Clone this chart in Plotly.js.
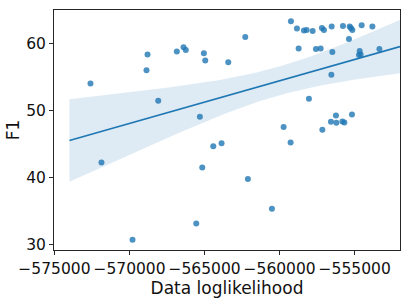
<!DOCTYPE html>
<html>
<head>
<meta charset="utf-8">
<script src="https://cdn.plot.ly/plotly-3.0.1.min.js"></script>
<style>html,body{margin:0;padding:0;background:#fff;}#chart{width:410px;height:300px;}</style>
</head>
<body>
<div id="chart"></div>
<script>
// Data loglikelihood (x) and F1 (y) per run
var loglik = [
  -572600, -568800, -568867, -568087, -566847, -566400, -566247, -565313, -565047, -564953,
  -563420, -562287, -559247, -558847, -558380, -558200, -557800, -557180, -557047, -556533,
  -555780, -555333, -555247, -555153, -554533, -553820, -555380, -558733, -557580, -557267,
  -556487, -554667, -554713, -554600, -553353, -556553, -558047, -555180, -556247, -556580,
  -556220, -555820, -555687, -557153, -559733, -571867, -565153, -564420, -563867, -559267,
  -562113, -560513, -565553, -569800
];
var f1 = [
  54.07, 58.36, 56.01, 51.48, 58.80, 59.45, 59.04, 49.09, 58.55, 57.46,
  57.20, 60.99, 63.33, 62.24, 61.94, 62.03, 61.88, 62.33, 62.03, 62.54,
  62.63, 62.54, 62.33, 62.03, 62.74, 62.54, 60.69, 59.25, 59.19, 59.25,
  58.74, 58.89, 58.30, 58.36, 59.19, 55.37, 51.78, 49.43, 49.28, 48.34,
  48.19, 48.39, 48.24, 47.15, 47.59, 42.30, 41.55, 44.69, 45.14, 45.25,
  39.82, 35.38, 33.18, 30.79
];
// extent of the fitted regression line / band along x
var fitRange = [-574000, -551980];
var xTicks = [-575000, -570000, -565000, -560000, -555000];
var yTicks = [30, 40, 50, 60];

// ordinary least squares fit with 95% confidence band
var n = loglik.length;
var mx = loglik.reduce(function(a,b){return a+b;},0)/n;
var my = f1.reduce(function(a,b){return a+b;},0)/n;
var sxx = 0, sxy = 0;
for (var i=0;i<n;i++){ sxx += (loglik[i]-mx)*(loglik[i]-mx); sxy += (loglik[i]-mx)*(f1[i]-my); }
var slope = sxy/sxx, icpt = my - slope*mx;
var sse = 0;
for (var i=0;i<n;i++){ var r = f1[i]-(icpt+slope*loglik[i]); sse += r*r; }
var s = Math.sqrt(sse/(n-2));
var tcrit = 2.007;
var gx = [], gy = [], lo = [], hi = [];
var steps = 100;
for (var k=0;k<=steps;k++){
  var x0 = fitRange[0] + (fitRange[1]-fitRange[0])*k/steps;
  var y0 = icpt + slope*x0;
  var se = s*Math.sqrt(1/n + (x0-mx)*(x0-mx)/sxx);
  gx.push(x0); gy.push(y0); lo.push(y0 - tcrit*se); hi.push(y0 + tcrit*se);
}

var col = '#1f77b4';
var traces = [
  {x: gx, y: lo, mode: 'lines', line: {width: 0, color: col}, hoverinfo: 'skip', showlegend: false},
  {x: gx, y: hi, mode: 'lines', line: {width: 0, color: col}, fill: 'tonexty', fillcolor: 'rgba(31,119,180,0.15)', hoverinfo: 'skip', showlegend: false},
  {x: loglik, y: f1, mode: 'markers', type: 'scatter', marker: {color: col, opacity: 0.8, size: 6, line: {width: 0}}, showlegend: false},
  {x: gx, y: gy, mode: 'lines', line: {width: 1.6, color: col}, showlegend: false}
];

var axisCommon = {
  showgrid: false, zeroline: false, showline: true, mirror: true,
  linecolor: '#262626', linewidth: 1, ticks: 'outside', ticklen: 4, tickwidth: 1, tickcolor: '#262626',
  tickfont: {family: 'DejaVu Sans', size: 15.5, color: '#111'},
  exponentformat: 'none', separatethousands: false
};
var layout = {
  width: 410, height: 300,
  margin: {l: 54, r: 10, t: 10, b: 50},
  paper_bgcolor: '#fff', plot_bgcolor: '#fff',
  xaxis: Object.assign({}, axisCommon, {
    range: [-575030, -551980], tickvals: xTicks, ticktext: xTicks.map(function(v){return '\u2212'+Math.abs(v);}),
    title: {text: 'Data loglikelihood', font: {family: 'DejaVu Sans', size: 17, color: '#111'}, standoff: 3}
  }),
  yaxis: Object.assign({}, axisCommon, {
    range: [29.25, 65.0], tickvals: yTicks,
    title: {text: 'F1', font: {family: 'DejaVu Sans', size: 17, color: '#111'}, standoff: 2}
  }),
  showlegend: false
};
Plotly.newPlot('chart', traces, layout, {displayModeBar: false, staticPlot: true});
</script>
</body>
</html>
